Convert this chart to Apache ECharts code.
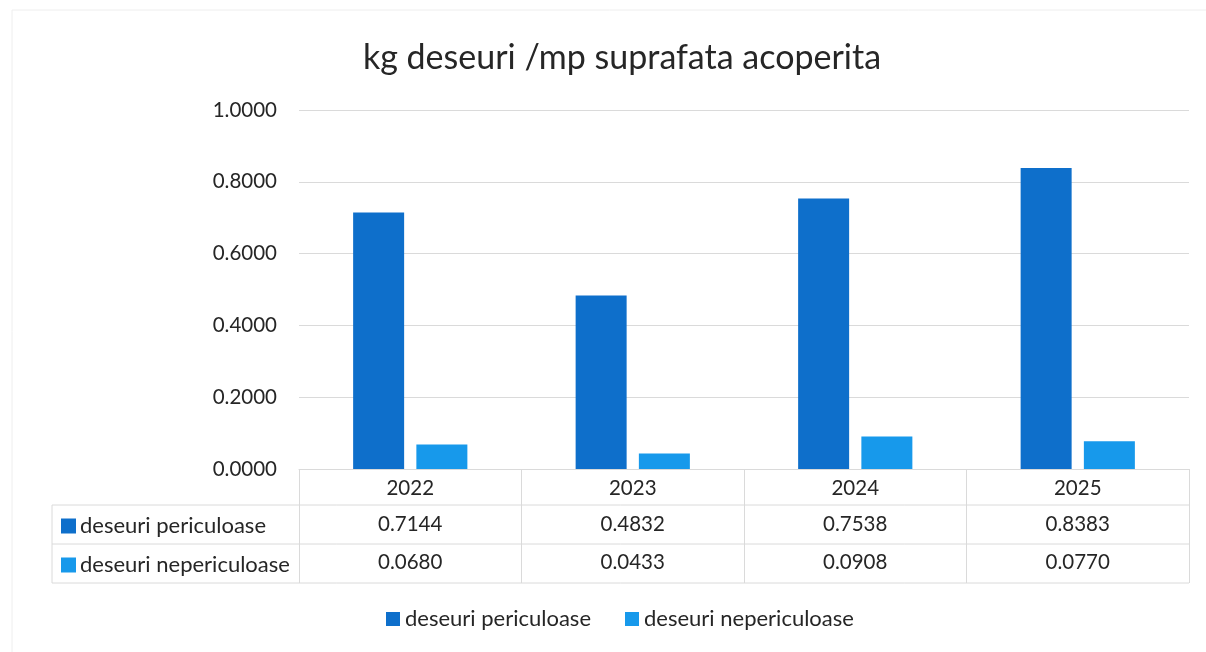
<!DOCTYPE html>
<html>
<head>
<meta charset="utf-8">
<script src="https://cdn.jsdelivr.net/npm/echarts@6/dist/echarts.min.js"></script>
<style>
html,body{margin:0;padding:0;background:#fff;}
#chart{width:1206px;height:652px;}
</style>
</head>
<body>
<div id="chart"></div>
<script>
const titleText = 'kg deseuri /mp suprafata acoperita';
const categories = ['2022', '2023', '2024', '2025'];
const seriesNames = ['deseuri periculoase', 'deseuri nepericuloase'];
const periculoase = [0.7144, 0.4832, 0.7538, 0.8383];
const nepericuloase = [0.0680, 0.0433, 0.0908, 0.0770];
const yMin = 0, yMax = 1, yInterval = 0.2;

const colors = ['#0E6FCB', '#1799EB'];
const FONT = 'Lato';
const FS = 20.5;      // numbers
const FST = 22;       // words
const textColor = '#262626';
const lineColor = '#dadada';

// layout
const gridLeft = 299, gridRight = 17, gridTop = 110, gridBottom = 183;
const W = 1206, H = 652;
const axisY = H - gridBottom;          // 469
const row1Top = 505, row2Top = 544, tableBottom = 583;
const tableLeft = 52, tableRight = W - gridRight;

const chart = echarts.init(document.getElementById('chart'), null, {renderer: 'canvas'});

const fmt = v => v.toFixed(4);

function rowLabel(idx, yCenter) {
  return {
    type: 'group',
    children: [
      {type: 'rect', shape: {x: 61, y: yCenter - 7, width: 15, height: 15}, style: {fill: colors[idx]}},
      {type: 'text', x: 80, y: yCenter, style: {text: seriesNames[idx], fontFamily: FONT, fontSize: FST, fill: textColor, verticalAlign: 'middle', textAlign: 'left'}}
    ]
  };
}

const option = {
  backgroundColor: '#ffffff',
  animation: false,
  title: {
    text: titleText,
    left: 617,
    textAlign: 'center',
    top: 36,
    textStyle: {fontFamily: FONT, fontSize: 34, fontWeight: 'normal', color: textColor}
  },
  legend: {
    data: seriesNames,
    left: 381,
    top: 603,
    icon: 'rect',
    itemWidth: 14,
    itemHeight: 14,
    itemGap: 34,
    textStyle: {fontFamily: FONT, fontSize: FST, color: textColor}
  },
  grid: {left: gridLeft, right: gridRight, top: gridTop, bottom: gridBottom, containLabel: false},
  xAxis: [
    {
      type: 'category',
      data: categories,
      position: 'bottom',
      axisLine: {show: true, lineStyle: {color: lineColor, width: 1}},
      axisTick: {show: true, interval: 0, alignWithLabel: false, length: tableBottom - axisY, lineStyle: {color: lineColor, width: 1}},
      axisLabel: {fontFamily: FONT, fontSize: FS, color: textColor, margin: 9, interval: 0},
      splitLine: {show: false}
    },
    {
      type: 'category',
      data: periculoase.map(fmt),
      position: 'bottom',
      axisLine: {show: false},
      axisTick: {show: false},
      axisLabel: {fontFamily: FONT, fontSize: FS, color: textColor, margin: 45, interval: 0},
      splitLine: {show: false}
    },
    {
      type: 'category',
      data: nepericuloase.map(fmt),
      position: 'bottom',
      axisLine: {show: false},
      axisTick: {show: false},
      axisLabel: {fontFamily: FONT, fontSize: FS, color: textColor, margin: 83, interval: 0},
      splitLine: {show: false}
    }
  ],
  yAxis: {
    type: 'value',
    min: yMin,
    max: yMax,
    interval: yInterval,
    axisLine: {show: false},
    axisTick: {show: false},
    axisLabel: {fontFamily: FONT, fontSize: FS, color: textColor, margin: 22, formatter: v => v.toFixed(4)},
    splitLine: {show: true, lineStyle: {color: lineColor, width: 1}}
  },
  series: [
    {
      name: seriesNames[0],
      type: 'bar',
      xAxisIndex: 0,
      data: periculoase,
      barWidth: 51,
      barGap: '24%',
      itemStyle: {color: colors[0]}
    },
    {
      name: seriesNames[1],
      type: 'bar',
      xAxisIndex: 0,
      data: nepericuloase,
      barWidth: 51,
      barGap: '24%',
      itemStyle: {color: colors[1]}
    }
  ],
  graphic: [
    {type: 'rect', silent: true, shape: {x: 12, y: 10, width: 1200, height: 660}, style: {fill: 'none', stroke: '#eeeeee', lineWidth: 1}},
    {type: 'line', shape: {x1: tableLeft, y1: row1Top, x2: tableRight, y2: row1Top}, style: {stroke: lineColor, lineWidth: 1}},
    {type: 'line', shape: {x1: tableLeft, y1: row2Top, x2: tableRight, y2: row2Top}, style: {stroke: lineColor, lineWidth: 1}},
    {type: 'line', shape: {x1: tableLeft, y1: tableBottom, x2: tableRight, y2: tableBottom}, style: {stroke: lineColor, lineWidth: 1}},
    {type: 'line', shape: {x1: tableLeft, y1: row1Top, x2: tableLeft, y2: tableBottom}, style: {stroke: lineColor, lineWidth: 1}},
    rowLabel(0, (row1Top + row2Top) / 2 + 1),
    rowLabel(1, (row2Top + tableBottom) / 2 + 1)
  ]
};

chart.setOption(option);
</script>
</body>
</html>
